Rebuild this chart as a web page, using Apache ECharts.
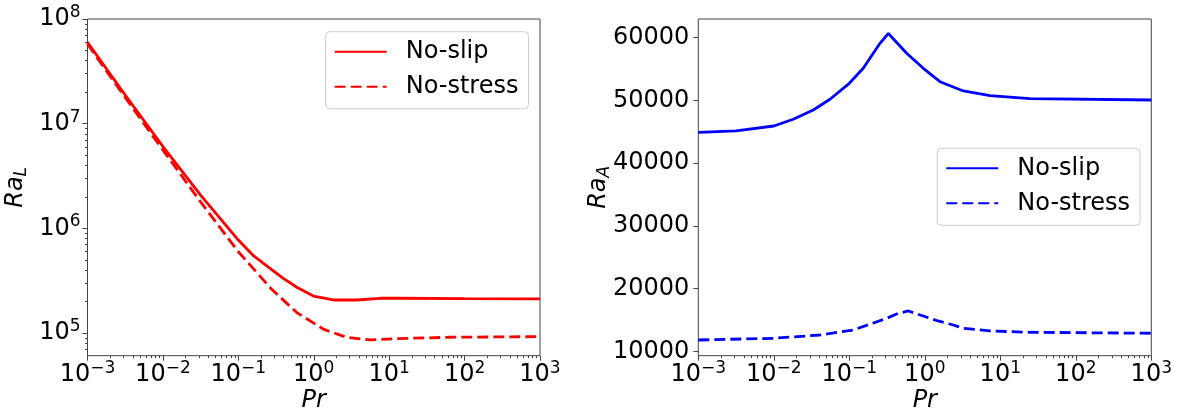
<!DOCTYPE html>
<html><head><meta charset="utf-8">
<script src="https://cdn.jsdelivr.net/npm/echarts@6/dist/echarts.min.js"></script>
<style>html,body{margin:0;padding:0;background:#fff}#c{width:1177px;height:412px}</style>
</head><body><div id="c"></div>
<script>
// ---- Left panel: Ra_L vs Pr ----
const prLSlip   = [0.001, 0.00316, 0.01, 0.0316, 0.1, 0.16, 0.263, 0.395, 0.596, 0.99, 1.82, 3.72, 7.57, 13.9, 100, 1000];
const raLSlip   = [6.0e7, 1.88e7, 6.05e6, 2.08e6, 7.73e5, 5.45e5, 4.16e5, 3.33e5, 2.74e5, 2.26e5, 2.07e5, 2.07e5, 2.15e5, 2.15e5, 2.13e5, 2.12e5];
const prLStress = [0.001, 0.00316, 0.01, 0.0316, 0.1, 0.277, 0.596, 1.34, 2.74, 5.6, 12.6, 64, 1000];
const raLStress = [5.77e7, 1.78e7, 5.6e6, 1.79e6, 5.98e5, 2.62e5, 1.57e5, 1.09e5, 9.1e4, 8.6e4, 8.85e4, 9.12e4, 9.25e4];
// ---- Right panel: Ra_A vs Pr ----
const prASlip   = [0.001, 0.00316, 0.01, 0.0181, 0.0333, 0.0555, 0.1, 0.153, 0.255, 0.329, 0.575, 0.955, 1.59, 3.24, 7.31, 24.7, 1000];
const raASlip   = [44920, 45160, 45925, 46993, 48476, 50181, 52731, 55122, 59107, 60669, 57513, 55122, 52986, 51504, 50755, 50277, 50070];
const prAStress = [0.001, 0.01, 0.0409, 0.113, 0.313, 0.442, 0.604, 1.50, 2.38, 3.24, 7.31, 24.7, 1000];
const raAStress = [11816, 12087, 12613, 13410, 15275, 16040, 16439, 14845, 14207, 13681, 13251, 13044, 12884];
// ---- Tick labels ----
const xMajor  = [1e-3, 1e-2, 1e-1, 1e0, 1e1, 1e2, 1e3];
const yLMajor = [1e5, 1e6, 1e7, 1e8];
const yAMajor = [10000, 20000, 30000, 40000, 50000, 60000];
const xRange = [1e-3, 1e3], yLRange = [6.08e4, 1e8], yARange = [9310, 62980];

function minorLog(lo, hi) {
  const out = [];
  for (let e = Math.floor(Math.log10(lo)); e <= Math.ceil(Math.log10(hi)); e++)
    for (let k = 2; k <= 9; k++) { const v = k * Math.pow(10, e); if (v > lo * 1.001 && v < hi) out.push(v); }
  return out;
}
const zip = (a, b) => a.map((x, i) => [x, b[i]]);
const FONT = 'DejaVu Sans';
const AX = '#444';
const powFmt = v => { const e = Math.round(Math.log10(v)); return '{b|10}{s|' + (e < 0 ? '\u2212' + (-e) : e) + '}'; };
const powRich = { b: { fontSize: 24, fontFamily: FONT, color: '#000', lineHeight: 30 },
                  s: { fontSize: 17, fontFamily: FONT, color: '#000', lineHeight: 20, verticalAlign: 'top' } };
const nameRich = { i: { fontSize: 24, fontFamily: FONT, fontStyle: 'italic', color: '#000', lineHeight: 30 },
                   u: { fontSize: 17, fontFamily: FONT, fontStyle: 'italic', color: '#000', lineHeight: 20, verticalAlign: 'bottom' } };

function xAxes(grid) {
  return [
    { gridIndex: grid, type: 'log', logBase: 10, min: xRange[0], max: xRange[1], position: 'bottom',
      axisLine: { show: false }, splitLine: { show: false },
      axisTick: { show: true, length: 5, lineStyle: { color: AX, width: 1 }, customValues: xMajor },
      axisLabel: { show: true, margin: 4, customValues: xMajor, formatter: powFmt, rich: powRich },
      name: 'Pr', nameLocation: 'middle', nameGap: 33, nameMoveOverlap: false,
      nameTextStyle: { fontSize: 24, fontFamily: FONT, fontStyle: 'italic', color: '#000' } },
    { gridIndex: grid, type: 'log', logBase: 10, min: xRange[0], max: xRange[1], position: 'bottom',
      axisLine: { show: false }, splitLine: { show: false }, axisLabel: { show: false },
      axisTick: { show: true, length: 2.5, lineStyle: { color: AX, width: 1 }, customValues: minorLog(xRange[0], xRange[1]) } }
  ];
}
function legend(left, top, names) {
  return { left: left, top: top, orient: 'vertical', data: names,
    formatter: n => n.replace(/ [LA]$/, ''),
    itemWidth: 52, itemHeight: 14, itemGap: 11, padding: [8, 10, 10, 8],
    itemStyle: { opacity: 0 },
    backgroundColor: 'rgba(255,255,255,0.8)', borderColor: '#cccccc', borderWidth: 1, borderRadius: 4,
    textStyle: { fontSize: 24, fontFamily: FONT, color: '#000', lineHeight: 24, padding: [0, 0, 0, 14] } };
}
const gridBase = { top: 19, height: 336.7, show: true, borderColor: AX, borderWidth: 1, backgroundColor: 'transparent',
                   containLabel: false, outerBoundsMode: 'none' };

const option = {
  animation: false,
  backgroundColor: '#fff',
  grid: [
    Object.assign({ left: 87.5, width: 452.5 }, gridBase),
    Object.assign({ left: 698.3, width: 453 }, gridBase)
  ],
  xAxis: [...xAxes(0), ...xAxes(1)],
  yAxis: [
    { gridIndex: 0, type: 'log', logBase: 10, min: yLRange[0], max: yLRange[1], position: 'left',
      axisLine: { show: false }, splitLine: { show: false },
      axisTick: { show: true, length: 5, lineStyle: { color: AX, width: 1 }, customValues: yLMajor },
      axisLabel: { show: true, margin: 7, customValues: yLMajor, formatter: powFmt, rich: powRich },
      name: '{i|Ra}{u|L}', nameLocation: 'middle', nameGap: 57, nameMoveOverlap: false, nameTextStyle: { rich: nameRich } },
    { gridIndex: 0, type: 'log', logBase: 10, min: yLRange[0], max: yLRange[1], position: 'left',
      axisLine: { show: false }, splitLine: { show: false }, axisLabel: { show: false },
      axisTick: { show: true, length: 2.5, lineStyle: { color: AX, width: 1 }, customValues: minorLog(yLRange[0], yLRange[1]) } },
    { gridIndex: 1, type: 'value', min: yARange[0], max: yARange[1], position: 'left',
      axisLine: { show: false }, splitLine: { show: false },
      axisTick: { show: true, length: 5, lineStyle: { color: AX, width: 1 }, customValues: yAMajor },
      axisLabel: { show: true, margin: 9, customValues: yAMajor, formatter: v => String(v), fontSize: 24, fontFamily: FONT, color: '#000' },
      name: '{i|Ra}{u|A}', nameLocation: 'middle', nameGap: 85, nameMoveOverlap: false, nameTextStyle: { rich: nameRich } }
  ],
  legend: [ legend(325.7, 31.7, ['No-slip L', 'No-stress L']), legend(937.3, 148.3, ['No-slip A', 'No-stress A']) ],
  series: [
    { name: 'No-slip L', type: 'line', xAxisIndex: 0, yAxisIndex: 0, data: zip(prLSlip, raLSlip),
      symbol: 'none', color: '#ff0000', lineStyle: { color: '#ff0000', width: 2.8 } },
    { name: 'No-stress L', type: 'line', xAxisIndex: 0, yAxisIndex: 0, data: zip(prLStress, raLStress),
      symbol: 'none', color: '#ff0000', lineStyle: { color: '#ff0000', width: 2.8, type: [11, 5] } },
    { name: 'No-slip A', type: 'line', xAxisIndex: 2, yAxisIndex: 2, data: zip(prASlip, raASlip),
      symbol: 'none', color: '#0000ff', lineStyle: { color: '#0000ff', width: 2.8 } },
    { name: 'No-stress A', type: 'line', xAxisIndex: 2, yAxisIndex: 2, data: zip(prAStress, raAStress),
      symbol: 'none', color: '#0000ff', lineStyle: { color: '#0000ff', width: 2.8, type: [11, 5] } }
  ]
};
const chart = echarts.init(document.getElementById('c'), null, { renderer: 'canvas' });
chart.setOption(option);
</script></body></html>
